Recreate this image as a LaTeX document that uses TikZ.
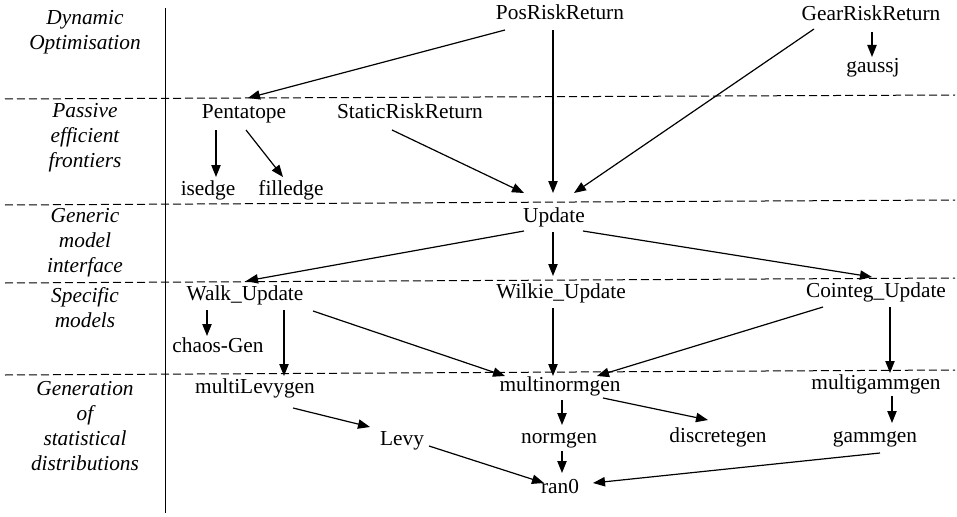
\documentclass[tikz,border=0pt]{standalone}
\usepackage{fontspec}
\setmainfont{Liberation Serif}
\usetikzlibrary{arrows.meta}

\begin{document}
\begin{tikzpicture}[x=0.75pt, y=-0.75pt, >={Triangle[length=9pt,width=7pt]},
    fn/.style={font=\fontsize{16}{18.75}\selectfont, inner sep=0pt, text height=11pt, text depth=3.5pt},
    level/.style={align=center, inner sep=0pt, font=\fontsize{16}{18.75}\selectfont\itshape},
    link/.style={->, line width=0.9pt},
    band/.style={dash pattern=on 6pt off 3pt, line width=0.75pt}]
    \useasboundingbox (0,0) rectangle (957,517);
    % layers
    \draw[line width=0.7pt] (165,8) -- (165,513);
    \draw[band] (5,99) -- (955,95);
    \draw[band] (5,205) -- (955,200);
    \draw[band] (5,283) -- (955,278);
    \draw[band] (5,375) -- (955,370);
    \node[level] (dyn) at (85,32) {Dynamic\\Optimisation};
    \node[level] (pass) at (85,138) {Passive\\efficient\\frontiers};
    \node[level] (gen) at (85,243) {Generic\\model\\interface};
    \node[level] (spec) at (85,308) {Specific\\models};
    \node[level] (distr) at (85,426) {Generation\\of\\statistical\\distributions};
    % routines
    \node[fn] (pos) at (560,15) {PosRiskReturn};
    \node[fn] (gear) at (871,16) {GearRiskReturn};
    \node[fn] (gauss) at (873,68) {gaussj};
    \node[fn] (pent) at (244,113) {Pentatope};
    \node[fn] (static) at (410,113) {StaticRiskReturn};
    \node[fn] (isedge) at (208,190) {isedge};
    \node[fn] (filledge) at (291,190) {filledge};
    \node[fn] (upd) at (554,217) {Update};
    \node[fn] (walk) at (245,295) {Walk\_Update};
    \node[fn] (chaos) at (218,347) {chaos-Gen};
    \node[fn] (wilkie) at (561,293) {Wilkie\_Update};
    \node[fn] (cointeg) at (876,292) {Cointeg\_Update};
    \node[fn] (mlevy) at (255,388) {multiLevygen};
    \node[fn] (mnorm) at (560,386) {multinormgen};
    \node[fn] (mgamm) at (876,384) {multigammgen};
    \node[fn] (levy) at (402,440) {Levy};
    \node[fn] (norm) at (559,438) {normgen};
    \node[fn] (discrete) at (718,437) {discretegen};
    \node[fn] (gamm) at (875,437) {gammgen};
    \node[fn] (ran) at (560,488) {ran0};
    % calls
    \draw[link] ([shift={(-55,15)}]pos.center) -- ([shift={(4,-15)}]pent.center);
    \draw[link] ([shift={(-7,15)}]pos.center) -- ([shift={(-1,-24)}]upd.center);
    \draw[link] ([shift={(-57,13)}]gear.center) -- ([shift={(20,-24)}]upd.center);
    \draw[link] ([shift={(1,16)}]gear.center) -- ([shift={(-1,-11)}]gauss.center);
    \draw[link] ([shift={(-18,17)}]static.center) -- ([shift={(-30,-24)}]upd.center);
    \draw[link] ([shift={(-28,17)}]pent.center) -- ([shift={(8,-13)}]isedge.center);
    \draw[link] ([shift={(2,17)}]pent.center) -- ([shift={(-8,-13)}]filledge.center);
    \draw[link] ([shift={(-30,14)}]upd.center) -- ([shift={(1,-14)}]walk.center);
    \draw[link] ([shift={(-1,15)}]upd.center) -- ([shift={(-8,-17)}]wilkie.center);
    \draw[link] ([shift={(29,14)}]upd.center) -- ([shift={(-4,-15)}]cointeg.center);
    \draw[link] ([shift={(-38,15)}]walk.center) -- ([shift={(-11,-11)}]chaos.center);
    \draw[link] ([shift={(39,15)}]walk.center) -- ([shift={(29,-12)}]mlevy.center);
    \draw[link] ([shift={(68,16)}]walk.center) -- ([shift={(-55,-10)}]mnorm.center);
    \draw[link] ([shift={(-8,15)}]wilkie.center) -- ([shift={(-7,-10)}]mnorm.center);
    \draw[link] ([shift={(-53,15)}]cointeg.center) -- ([shift={(37,-10)}]mnorm.center);
    \draw[link] ([shift={(14,15)}]cointeg.center) -- ([shift={(14,-11)}]mgamm.center);
    \draw[link] ([shift={(38,20)}]mlevy.center) -- ([shift={(-32,-13)}]levy.center);
    \draw[link] ([shift={(27,6)}]levy.center) -- ([shift={(-16,-5)}]ran.center);
    \draw[link] ([shift={(2,14)}]mnorm.center) -- ([shift={(3,-13)}]norm.center);
    \draw[link] ([shift={(43,12)}]mnorm.center) -- ([shift={(-10,-17)}]discrete.center);
    \draw[link] ([shift={(3,13)}]norm.center) -- ([shift={(2,-15)}]ran.center);
    \draw[link] ([shift={(16,12)}]mgamm.center) -- ([shift={(17,-14)}]gamm.center);
    \draw[link] ([shift={(5,16)}]gamm.center) -- ([shift={(33,-5)}]ran.center);
\end{tikzpicture}
\end{document}
